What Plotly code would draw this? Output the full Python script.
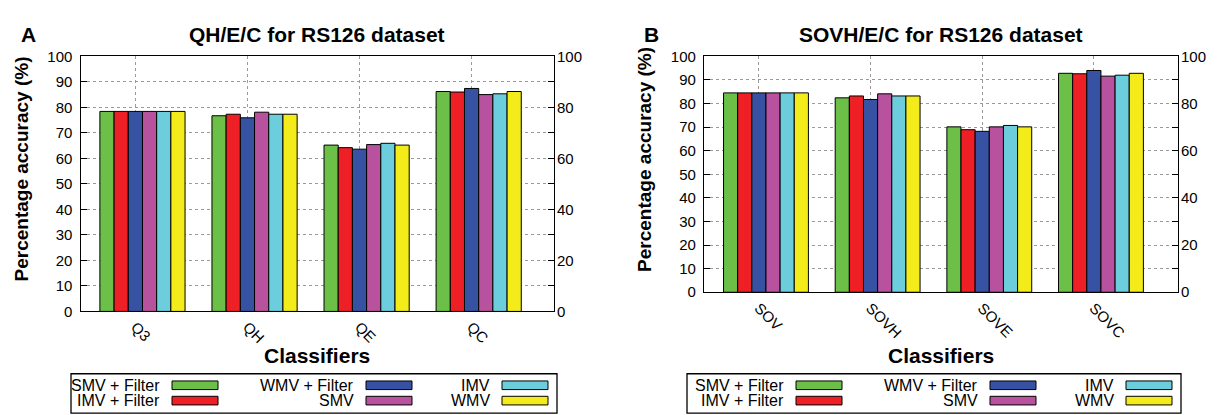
import plotly.graph_objects as go

W, H = 1218, 415

series = ["SMV + Filter", "IMV + Filter", "WMV + Filter", "SMV", "IMV", "WMV"]
colors = ["#6cbf47", "#ee2026", "#3852a3", "#b9529e", "#6ccddc", "#f4ec1a"]

cats_a = ["Q3", "QH", "QE", "QC"]
a_smv_f = [78.4, 76.7, 65.2, 86.2]
a_imv_f = [78.4, 77.3, 64.2, 86.0]
a_wmv_f = [78.4, 75.9, 63.6, 87.4]
a_smv = [78.4, 78.1, 65.4, 85.0]
a_imv = [78.4, 77.3, 65.9, 85.3]
a_wmv = [78.4, 77.3, 65.2, 86.2]

cats_b = ["SOV", "SOVH", "SOVE", "SOVC"]
b_smv_f = [84.5, 82.4, 70.1, 92.8]
b_imv_f = [84.5, 83.2, 68.9, 92.6]
b_wmv_f = [84.5, 81.7, 68.2, 94.0]
b_smv = [84.5, 84.1, 70.1, 91.6]
b_imv = [84.5, 83.2, 70.7, 92.0]
b_wmv = [84.5, 83.2, 70.1, 92.8]

y_ticks_left = [0, 10, 20, 30, 40, 50, 60, 70, 80, 90, 100]
y_ticks_right = [0, 20, 40, 60, 80, 100]

vals_a = [a_smv_f, a_imv_f, a_wmv_f, a_smv, a_imv, a_wmv]
vals_b = [b_smv_f, b_imv_f, b_wmv_f, b_smv, b_imv, b_wmv]

FONT = "Liberation Sans, Arial, sans-serif"


def px(x):
    return x / W


def py(y):
    return 1 - y / H


fig = go.Figure()
for name, col, va, vb in zip(series, colors, vals_a, vals_b):
    fig.add_trace(go.Bar(x=list(range(len(cats_a))), y=va, name=name, marker_color=col,
                         marker_line=dict(color="black", width=1),
                         xaxis="x", yaxis="y", showlegend=False))
    fig.add_trace(go.Bar(x=list(range(len(cats_b))), y=vb, name=name, marker_color=col,
                         marker_line=dict(color="black", width=1),
                         xaxis="x2", yaxis="y2", showlegend=False))

# panel geometry in pixels
LA = dict(x0=72.5, x1=546, y0=41, y1=307)
LB = dict(x0=696, x1=1170, y0=41, y1=287)

grid = dict(showgrid=True, gridcolor="#9a9a9a", gridwidth=1, griddash="3px,3px")
tickfont = dict(family=FONT, size=15, color="black")


def xaxis(p, cats, rng, anchor):
    return dict(domain=[px(p["x0"]), px(p["x1"])], range=rng, anchor=anchor,
                tickvals=[i - 0.065 for i in range(len(cats))], ticktext=cats,
                tickangle=45, tickfont=tickfont, ticks="",
                showline=True, linecolor="black", linewidth=1.3, mirror=True,
                zeroline=False, **grid)


def yaxis(p, anchor):
    return dict(domain=[py(p["y1"]), py(p["y0"])], range=[0, 100],
                tickvals=y_ticks_left, tickfont=tickfont, ticks="inside", ticklen=6,
                tickcolor="black", showline=True, linecolor="black", linewidth=1.3,
                mirror="ticks", zeroline=False, anchor=anchor, ticklabelstandoff=4, **grid)


def yaxis_r(p, anchor, over):
    return dict(domain=[py(p["y1"]), py(p["y0"])], range=[0, 100], overlaying=over,
                side="right", anchor=anchor, tickvals=y_ticks_right, tickfont=tickfont,
                ticks="", showgrid=False, showline=False, zeroline=False,
                ticklabelstandoff=2)


# invisible traces to carry the right-hand axes
fig.add_trace(go.Scatter(x=[0], y=[0], xaxis="x", yaxis="y3", mode="markers",
                         marker=dict(opacity=0), showlegend=False, hoverinfo="skip"))
fig.add_trace(go.Scatter(x=[0], y=[0], xaxis="x2", yaxis="y4", mode="markers",
                         marker=dict(opacity=0), showlegend=False, hoverinfo="skip"))

fig.update_layout(
    width=W, height=H, margin=dict(l=0, r=0, t=0, b=0),
    paper_bgcolor="white", plot_bgcolor="white",
    barmode="group", bargap=0.24, bargroupgap=0,
    font=dict(family=FONT, color="black"),
    xaxis=xaxis(LA, cats_a, [-0.553, 3.672], "y"),
    yaxis=yaxis(LA, "x"),
    xaxis2=xaxis(LB, cats_b, [-0.555, 3.69], "y2"),
    yaxis2=yaxis(LB, "x2"),
    yaxis3=yaxis_r(LA, "x", "y"),
    yaxis4=yaxis_r(LB, "x2", "y2"),
)

ann = []
shapes = []
bold = dict(family=FONT, size=21, color="black")
ybold = dict(family=FONT, size=19, color="black")
for p, title, letter, ytx, ltr_x in [(LA, "QH/E/C for RS126 dataset", "A", 13, 20),
                                     (LB, "SOVH/E/C for RS126 dataset", "B", 637, 643)]:
    cx = (p["x0"] + p["x1"]) / 2
    ann.append(dict(text="<b>%s</b>" % title, x=px(cx), y=py(18), xref="paper", yref="paper",
                    showarrow=False, font=bold, xanchor="center", yanchor="middle"))
    ann.append(dict(text="<b>%s</b>" % letter, x=px(ltr_x), y=py(18), xref="paper", yref="paper",
                    showarrow=False, font=bold, xanchor="center", yanchor="middle"))
    ann.append(dict(text="<b>Percentage accuracy (%)</b>", x=px(ytx), y=py(159 + (p["y1"] - 307) / 2),
                    xref="paper", yref="paper", showarrow=False, font=ybold, textangle=-90,
                    xanchor="center", yanchor="middle"))
    ann.append(dict(text="<b>Classifiers</b>", x=px(cx), y=py(353), xref="paper", yref="paper",
                    showarrow=False, font=bold, xanchor="center", yanchor="middle"))

# legends
for box_l, box_r, sw_x in [(63, 549, [164, 358, 494]), (679, 1173, [788, 982, 1118])]:
    shapes.append(dict(type="rect", xref="paper", yref="paper", x0=px(box_l), x1=px(box_r),
                       y0=py(413), y1=py(372), line=dict(color="black", width=1.3),
                       fillcolor="white", layer="below"))
    for i, (name, col) in enumerate(zip(series, colors)):
        c, r = i // 2, i % 2
        yc = 384 + 16 * r
        shapes.append(dict(type="rect", xref="paper", yref="paper", x0=px(sw_x[c]),
                           x1=px(sw_x[c] + 46), y0=py(yc + 4.5), y1=py(yc - 4.5),
                           line=dict(color="black", width=1), fillcolor=col))
        ann.append(dict(text=name, x=px(sw_x[c] - 10), y=py(yc), xref="paper", yref="paper",
                        showarrow=False, font=dict(family=FONT, size=16, color="black"),
                        xanchor="right", yanchor="middle"))

fig.update_layout(annotations=ann, shapes=shapes)
fig.write_html("out.html")
